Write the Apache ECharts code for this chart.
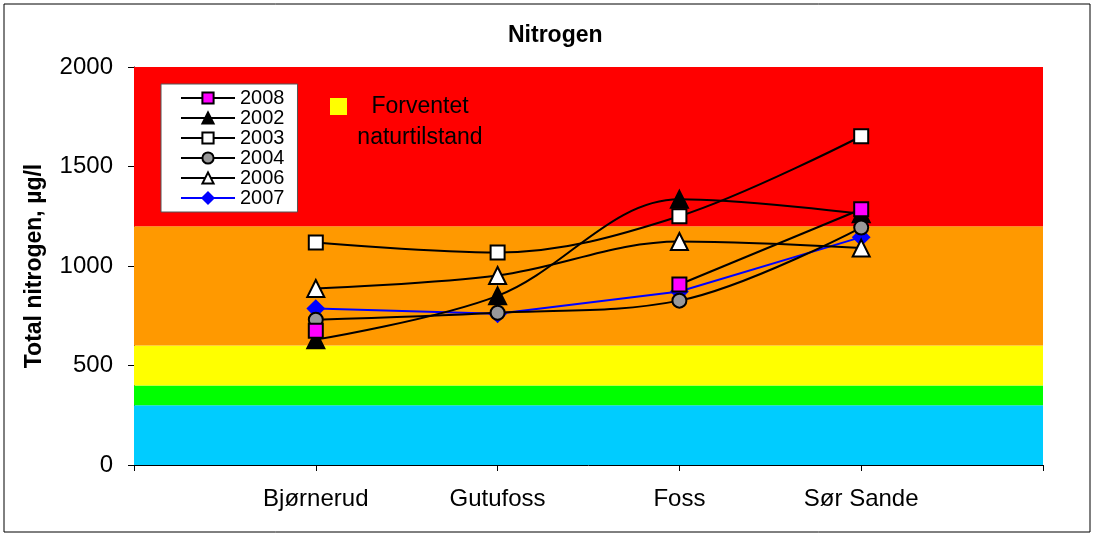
<!DOCTYPE html>
<html>
<head>
<meta charset="utf-8">
<script src="https://cdn.jsdelivr.net/npm/echarts@6/dist/echarts.min.js"></script>
<style>
  html, body { margin: 0; padding: 0; background: #fff; }
  #chart { width: 1094px; height: 537px; }
</style>
</head>
<body>
<div id="chart"></div>
<script>
// stasjoner (tomme ender gir luft på hver side som i originalen)
const stations = ["", "Bjørnerud", "Gutufoss", "Foss", "Sør Sande", ""];
const yTicks = [0, 500, 1000, 1500, 2000];

// total nitrogen, µg/l
const n2008 = [null, 675, null, 907, 1285, null];
const n2002 = [null, 630, 850, 1335, 1262, null];
const n2003 = [null, 1118, 1068, 1250, 1652, null];
const n2004 = [null, 730, 765, 826, 1193, null];
const n2006 = [null, 887, 952, 1123, 1090, null];
const n2007 = [null, 786, 760, 872, 1145, null];

// fargebånd (klassegrenser)
const bandLimits = [0, 300, 400, 600, 1200, 2000];
const bandColors = ["#00CCFF", "#00FF00", "#FFFF00", "#FF9900", "#FF0000"];

const font = "Liberation Sans, Arial, sans-serif";
const chart = echarts.init(document.getElementById("chart"));

function lineSeries(name, data, symbol, size, fill, lineColor, z, smooth) {
  return {
    name: name,
    type: "line",
    data: data,
    symbol: symbol,
    symbolSize: size,
    smooth: smooth,
    connectNulls: false,
    z: z,
    lineStyle: { color: lineColor, width: 2 },
    itemStyle: { color: fill, borderColor: lineColor, borderWidth: 2 },
    emphasis: { disabled: true }
  };
}

const bands = bandColors.map((c, i) => [
  { yAxis: bandLimits[i], itemStyle: { color: c, opacity: 1 } },
  { yAxis: bandLimits[i + 1] }
]);

const option = {
  animation: false,
  backgroundColor: "#fff",
  textStyle: { fontFamily: font },
  title: {
    text: "Nitrogen",
    left: 503,
    top: 19,
    textStyle: { fontSize: 23, fontWeight: "bold", color: "#000", fontFamily: font }
  },
  grid: { left: 134, right: 51, top: 67, bottom: 72 },
  legend: {
    orient: "vertical",
    left: 161,
    top: 84,
    data: ["2008", "2002", "2003", "2004", "2006", "2007"],
    backgroundColor: "#fff",
    borderColor: "#555",
    borderWidth: 1,
    padding: [4, 13, 4, 19],
    itemWidth: 54,
    itemHeight: 14,
    itemGap: 0,
    itemTextGap: 6,
    selectedMode: false,
    textStyle: { fontSize: 20, lineHeight: 20, color: "#000", fontFamily: font }
  },
  graphic: [
    {
      type: "rect",
      shape: { x: 4, y: 4, width: 1086, height: 528 },
      style: { fill: null, stroke: "#000", lineWidth: 1 },
      z: 100
    },
    {
      type: "rect",
      shape: { x: 330, y: 98, width: 17, height: 17 },
      style: { fill: "#FFFF00" },
      z: 100
    },
    {
      type: "text",
      x: 420,
      y: 107,
      style: { text: "Forventet", fontSize: 23, fontFamily: font, fill: "#000", align: "center", verticalAlign: "middle" },
      z: 100
    },
    {
      type: "text",
      x: 420,
      y: 138,
      style: { text: "naturtilstand", fontSize: 23, fontFamily: font, fill: "#000", align: "center", verticalAlign: "middle" },
      z: 100
    }
  ],
  xAxis: {
    type: "category",
    data: stations,
    boundaryGap: false,
    axisLine: { lineStyle: { color: "#000", width: 1 } },
    axisTick: { show: true, length: 6, lineStyle: { color: "#000" } },
    axisLabel: { fontSize: 24, color: "#000", margin: 22, fontFamily: font },
    splitLine: { show: false }
  },
  yAxis: {
    type: "value",
    min: yTicks[0],
    max: yTicks[yTicks.length - 1],
    interval: 500,
    name: "Total nitrogen, µg/l",
    nameLocation: "middle",
    nameRotate: 90,
    nameGap: 88,
    nameTextStyle: { fontSize: 23, fontWeight: "bold", color: "#000", fontFamily: font },
    axisLine: { show: true, lineStyle: { color: "#000", width: 1 } },
    axisTick: { show: true, length: 6, lineStyle: { color: "#000" } },
    axisLabel: { fontSize: 24, color: "#000", margin: 21, fontFamily: font, formatter: (v) => String(v) },
    splitLine: { show: false }
  },
  series: [
    {
      name: "bands",
      type: "line",
      data: [],
      silent: true,
      z: 1,
      markArea: { silent: true, data: bands }
    },
    lineSeries("2007", n2007, "diamond", 16, "#0000FF", "#0000FF", 3, false),
    lineSeries("2002", n2002, "triangle", 17, "#000", "#000", 4, 0.35),
    lineSeries("2003", n2003, "rect", 14, "#fff", "#000", 5, 0.35),
    lineSeries("2004", n2004, "circle", 14, "#999", "#000", 6, 0.35),
    lineSeries("2006", n2006, "triangle", 17, "#fff", "#000", 7, 0.35),
    lineSeries("2008", n2008, "rect", 14, "#FF00FF", "#000", 8, false)
  ]
};

chart.setOption(option);
</script>
</body>
</html>
